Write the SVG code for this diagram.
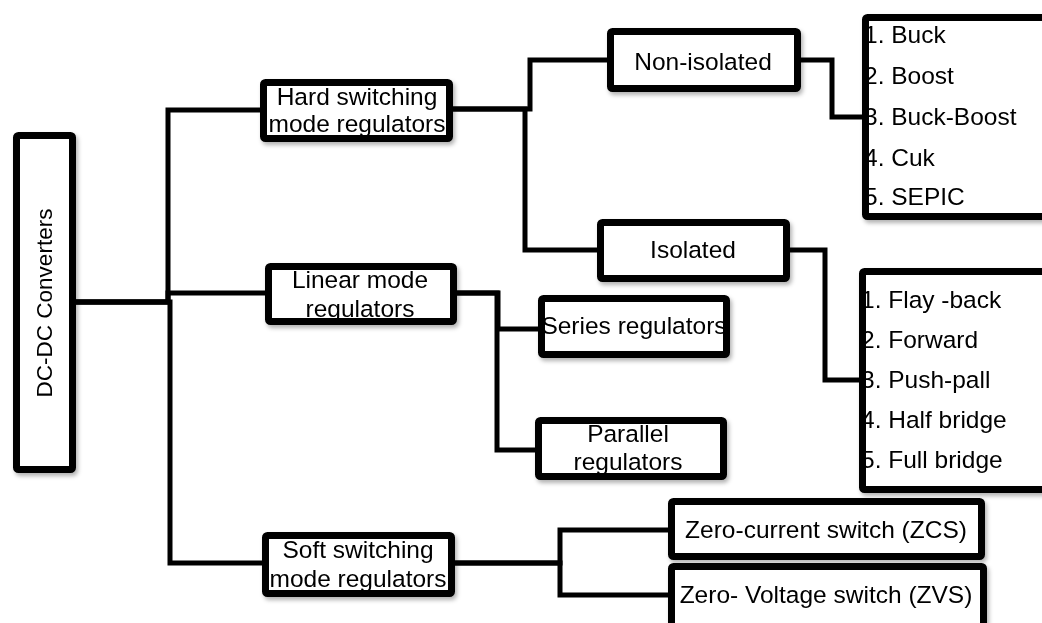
<svg xmlns="http://www.w3.org/2000/svg" width="1042" height="623" viewBox="0 0 1042 623">
<defs>
<filter id="sh" x="-10%" y="-10%" width="130%" height="140%">
<feDropShadow dx="2" dy="3" stdDeviation="2" flood-color="#000" flood-opacity="0.3"/>
</filter>
<style>
.bg{fill:#fff;stroke:none}
.bx{fill:none;stroke:#000;stroke-width:7;stroke-linejoin:round}
.t{font-family:"Liberation Sans",Arial,sans-serif;font-size:24.5px;fill:#000;text-anchor:middle}
.l{font-family:"Liberation Sans",Arial,sans-serif;font-size:24.5px;fill:#000}
.c{fill:none;stroke:#000;stroke-width:5;stroke-linejoin:miter}
</style>
</defs>
<rect width="1042" height="623" fill="#fff"/>
<g id="connectors">
<path class="c" d="M76 302 H168 V110 H262"/>
<path class="c" d="M76 302 H168 V293 H267"/>
<path class="c" d="M76 302 H170 V563 H264"/>
<path class="c" d="M451 109 H530 V60 H609"/>
<path class="c" d="M451 109 H525 V250 H599"/>
<path class="c" d="M799 60 H832 V117 H864"/>
<path class="c" d="M788 250 H825 V380 H861"/>
<path class="c" d="M455 293 H498 V329 H540"/>
<path class="c" d="M455 293 H497 V450 H537"/>
<path class="c" d="M453 563 H560 V530 H670"/>
<path class="c" d="M453 563 H560 V595 H670"/>
</g>
<g id="dcdc" filter="url(#sh)">
<rect class="bg" x="16.5" y="135.5" width="56" height="334"/>
<text class="t" style="font-size:22.5px" transform="translate(44,303) rotate(-90)" x="0" y="8">DC-DC Converters</text>
<rect class="bx" x="16.5" y="135.5" width="56" height="334" rx="2"/>
</g>
<g id="hard" filter="url(#sh)">
<rect class="bg" x="263.5" y="82.5" width="186" height="56"/>
<text class="t" x="357" y="105">Hard switching</text>
<text class="t" x="357" y="132">mode regulators</text>
<rect class="bx" x="263.5" y="82.5" width="186" height="56" rx="2"/>
</g>
<g id="linear" filter="url(#sh)">
<rect class="bg" x="268.5" y="266.5" width="185" height="55"/>
<text class="t" x="360" y="288">Linear mode</text>
<text class="t" x="360" y="317">regulators</text>
<rect class="bx" x="268.5" y="266.5" width="185" height="55" rx="2"/>
</g>
<g id="soft" filter="url(#sh)">
<rect class="bg" x="265.5" y="535.5" width="186" height="58"/>
<text class="t" x="358" y="558">Soft switching</text>
<text class="t" x="358" y="587">mode regulators</text>
<rect class="bx" x="265.5" y="535.5" width="186" height="58" rx="2"/>
</g>
<g id="nonisolated" filter="url(#sh)">
<rect class="bg" x="610.5" y="31.5" width="187" height="57"/>
<text class="t" x="703" y="70">Non-isolated</text>
<rect class="bx" x="610.5" y="31.5" width="187" height="57" rx="2"/>
</g>
<g id="isolated" filter="url(#sh)">
<rect class="bg" x="600.5" y="222.5" width="186" height="56"/>
<text class="t" x="693" y="258">Isolated</text>
<rect class="bx" x="600.5" y="222.5" width="186" height="56" rx="2"/>
</g>
<g id="series" filter="url(#sh)">
<rect class="bg" x="541.5" y="298.5" width="185" height="56"/>
<text class="t" x="634" y="334">Series regulators</text>
<rect class="bx" x="541.5" y="298.5" width="185" height="56" rx="2"/>
</g>
<g id="parallel" filter="url(#sh)">
<rect class="bg" x="538.5" y="420.5" width="185" height="56"/>
<text class="t" x="628" y="442">Parallel</text>
<text class="t" x="628" y="470">regulators</text>
<rect class="bx" x="538.5" y="420.5" width="185" height="56" rx="2"/>
</g>
<g id="list1" filter="url(#sh)">
<rect class="bg" x="865.5" y="17.5" width="200" height="199"/>
<text class="l" x="864" y="43">1. Buck</text>
<text class="l" x="864" y="84">2. Boost</text>
<text class="l" x="864" y="125">3. Buck-Boost</text>
<text class="l" x="864" y="166">4. Cuk</text>
<text class="l" x="864" y="205">5. SEPIC</text>
<rect class="bx" x="865.5" y="17.5" width="200" height="199" rx="2"/>
</g>
<g id="list2" filter="url(#sh)">
<rect class="bg" x="862.5" y="271.5" width="200" height="218"/>
<text class="l" x="861" y="308">1. Flay -back</text>
<text class="l" x="861" y="348">2. Forward</text>
<text class="l" x="861" y="388">3. Push-pall</text>
<text class="l" x="861" y="428">4. Half bridge</text>
<text class="l" x="861" y="468">5. Full bridge</text>
<rect class="bx" x="862.5" y="271.5" width="200" height="218" rx="2"/>
</g>
<g id="zcs" filter="url(#sh)">
<rect class="bg" x="671.5" y="501.5" width="310" height="55"/>
<text class="t" x="826" y="538">Zero-current switch (ZCS)</text>
<rect class="bx" x="671.5" y="501.5" width="310" height="55" rx="2"/>
</g>
<g id="zvs" filter="url(#sh)">
<rect class="bg" x="671.5" y="566.5" width="312" height="62"/>
<text class="t" x="826" y="603">Zero- Voltage switch (ZVS)</text>
<rect class="bx" x="671.5" y="566.5" width="312" height="62" rx="2"/>
</g>
</svg>
